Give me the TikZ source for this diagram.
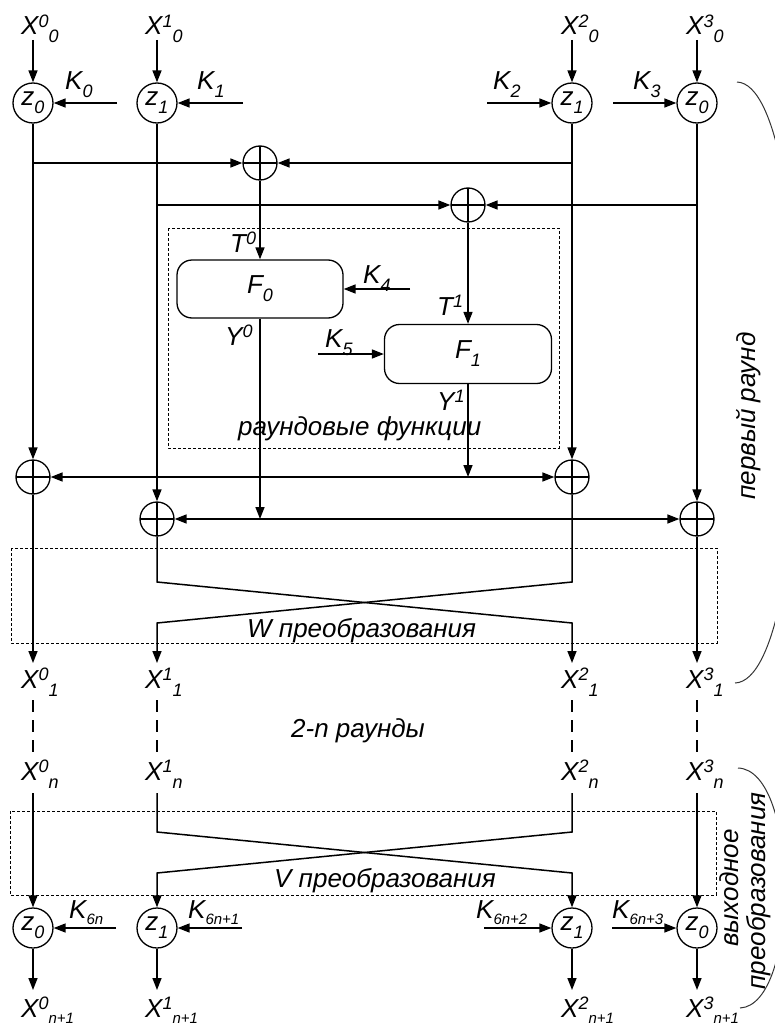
\documentclass[tikz,border=0pt]{standalone}
\usepackage{fontspec}
\setmainfont{Liberation Sans}
\usetikzlibrary{arrows.meta}
\newcommand\upx[1]{\raisebox{7.5pt}{\fontsize{18}{18}\selectfont #1}}
\newcommand\dnx[1]{\raisebox{-8pt}{\fontsize{18}{18}\selectfont #1}}
\newcommand\dny[1]{\raisebox{-6pt}{\fontsize{15}{15}\selectfont #1}}
\tikzset{
  ln/.style={line width=1.5pt},
  ar/.style={ln,-{Triangle[length=12pt,width=9pt]}},
  ar2/.style={ln,{Triangle[length=12pt,width=9pt]}-{Triangle[length=12pt,width=9pt]}},
  lbl/.style={font=\fontsize{26}{30}\selectfont\itshape, inner sep=0pt},
  zc/.style={circle, draw, line width=1.3pt, minimum size=40pt, inner sep=0pt, font=\fontsize{26}{30}\selectfont\itshape},
  xc/.style={circle, draw, line width=1.3pt, minimum size=34pt, inner sep=0pt,
    path picture={\draw[line width=1.3pt] (path picture bounding box.north) -- (path picture bounding box.south)
      (path picture bounding box.west) -- (path picture bounding box.east);}},
  fbox/.style={draw, line width=1.3pt, rounded corners=15pt, inner sep=0pt, font=\fontsize{26}{30}\selectfont\itshape},
  dbox/.style={line width=1pt, dash pattern=on 3pt off 2pt},
  dl/.style={ln, dash pattern=on 12pt off 8pt},
  brk/.style={line width=1pt, black!80},
}
\begin{document}
\begin{tikzpicture}[x=1pt,y=-1pt]
\useasboundingbox (0,0) rectangle (775,1030);
\clip (0,0) rectangle (775,1030);

% ---------- top inputs ----------
\node[lbl, anchor=base west] (x00) at (21,35) {X\upx{0}\dnx{0}};
\node[lbl, anchor=base west] (x10) at (145,35) {X\upx{1}\dnx{0}};
\node[lbl, anchor=base west] (x20) at (561,35) {X\upx{2}\dnx{0}};
\node[lbl, anchor=base west] (x30) at (686,35) {X\upx{3}\dnx{0}};
\coordinate (i0) at (33,40); \coordinate (i1) at (157,40);
\coordinate (i2) at (572,40); \coordinate (i3) at (697,40);

\node[zc] (zt0) at (33,103) {z\dnx{0}};
\node[zc] (zt1) at (157,103) {z\dnx{1}};
\node[zc] (zt2) at (572,103) {z\dnx{1}};
\node[zc] (zt3) at (697,103) {z\dnx{0}};
\foreach \i in {0,1,2,3} \draw[ar] (i\i) -- (zt\i);

\node[lbl, anchor=base west] (k0) at (65,90) {K\dnx{0}};
\node[lbl, anchor=base west] (k1) at (197,90) {K\dnx{1}};
\node[lbl, anchor=base west] (k2) at (493,90) {K\dnx{2}};
\node[lbl, anchor=base west] (k3) at (633,90) {K\dnx{3}};
\coordinate (k0s) at (117,103); \coordinate (k1s) at (243,103);
\coordinate (k2s) at (487,103); \coordinate (k3s) at (613,103);
\draw[ar] (k0s) -- (zt0.east);
\draw[ar] (k1s) -- (zt1.east);
\draw[ar] (k2s) -- (zt2.west);
\draw[ar] (k3s) -- (zt3.west);

% ---------- top xors ----------
\node[xc] (xr0) at (260,163) {};
\node[xc] (xr1) at (468,205) {};
\coordinate (b0) at (33,163); \coordinate (b2) at (572,163);
\coordinate (b1) at (157,205); \coordinate (b3) at (697,205);
\draw[ar] (b0) -- (xr0.west);
\draw[ar] (b2) -- (xr0.east);
\draw[ar] (b1) -- (xr1.west);
\draw[ar] (b3) -- (xr1.east);

% ---------- round functions ----------
\draw[dbox] (168,228) rectangle (559,448);
\node[lbl, anchor=base west] (rf) at (238,435) {раундовые функции};
\node[fbox, minimum width=166pt, minimum height=58pt] (F0) at (260,289) {F\dnx{0}};
\node[fbox, minimum width=167pt, minimum height=59pt] (F1) at (468,354) {F\dnx{1}};
\draw[ar] (xr0.south) -- (F0.north);
\draw[ar] (xr1.south) -- (F1.north);
\node[lbl, anchor=base west] (t0) at (230,252) {T\upx{0}};
\node[lbl, anchor=base west] (t1) at (437,315) {T\upx{1}};
\node[lbl, anchor=base west] (y0) at (225,345) {Y\upx{0}};
\node[lbl, anchor=base west] (y1) at (437,410) {Y\upx{1}};
\node[lbl, anchor=base west] (k4) at (363,283) {K\dnx{4}};
\node[lbl, anchor=base west] (k5) at (325,347) {K\dnx{5}};
\coordinate (k4s) at (410,289); \coordinate (k5s) at (318,354);
\draw[ar] (k4s) -- (F0.east);
\draw[ar] (k5s) -- (F1.west);

% ---------- lower xors ----------
\node[xc] (xa0) at (33,477) {};
\node[xc] (xa2) at (572,477) {};
\node[xc] (xb1) at (157,519) {};
\node[xc] (xb3) at (697,519) {};
\draw[ar] (zt0.south) -- (xa0.north);
\draw[ar] (zt1.south) -- (xb1.north);
\draw[ar] (zt2.south) -- (xa2.north);
\draw[ar] (zt3.south) -- (xb3.north);
\coordinate (ya) at (468,477); \coordinate (yb) at (260,519);
\draw[ar] (F1.south) -- (ya);
\draw[ar] (F0.south) -- (yb);
\draw[ar2] (xa0.east) -- (xa2.west);
\draw[ar2] (xb1.east) -- (xb3.west);

% ---------- W transform ----------
\draw[dbox] (11,548) rectangle (717,643);
\node[lbl, anchor=base west] (wt) at (247,637) {W преобразования};
\coordinate (o0) at (33,663); \coordinate (o1) at (157,663);
\coordinate (o2) at (572,663); \coordinate (o3) at (697,663);
\draw[ar] (xa0.south) -- (o0);
\draw[ar] (xb3.south) -- (o3);
\draw[ar] (xb1.south) -- (157,582) -- (572,623) -- (o2);
\draw[ar] (xa2.south) -- (572,582) -- (157,623) -- (o1);

\node[lbl, anchor=base west] (x01) at (21,688) {X\upx{0}\dnx{1}};
\node[lbl, anchor=base west] (x11) at (145,688) {X\upx{1}\dnx{1}};
\node[lbl, anchor=base west] (x21) at (561,688) {X\upx{2}\dnx{1}};
\node[lbl, anchor=base west] (x31) at (686,688) {X\upx{3}\dnx{1}};

% ---------- rounds 2..n ----------
\foreach \c/\n in {33/0,157/1,572/2,697/3} {
  \coordinate (da\n) at (\c,700); \coordinate (db\n) at (\c,757);
  \draw[dl] (da\n) -- (db\n);
}
\node[lbl, anchor=base west] (rn) at (291,737) {2-n раунды};
\node[lbl, anchor=base west] (x0n) at (21,780) {X\upx{0}\dnx{n}};
\node[lbl, anchor=base west] (x1n) at (145,780) {X\upx{1}\dnx{n}};
\node[lbl, anchor=base west] (x2n) at (561,780) {X\upx{2}\dnx{n}};
\node[lbl, anchor=base west] (x3n) at (686,780) {X\upx{3}\dnx{n}};

% ---------- V transform ----------
\draw[dbox] (10,811) rectangle (716,895);
\node[lbl, anchor=base west] (vt) at (274,887) {V преобразования};
\node[zc] (zb0) at (33,928) {z\dnx{0}};
\node[zc] (zb1) at (157,928) {z\dnx{1}};
\node[zc] (zb2) at (572,928) {z\dnx{1}};
\node[zc] (zb3) at (697,928) {z\dnx{0}};
\coordinate (n0) at (33,793); \coordinate (n1) at (157,793);
\coordinate (n2) at (572,793); \coordinate (n3) at (697,793);
\draw[ar] (n0) -- (zb0.north);
\draw[ar] (n3) -- (zb3.north);
\draw[ar] (n1) -- (157,832) -- (572,873) -- (zb2.north);
\draw[ar] (n2) -- (572,832) -- (157,873) -- (zb1.north);

\node[lbl, anchor=base west] (kb0) at (69,918) {K\dny{6n}};
\node[lbl, anchor=base west] (kb1) at (188,918) {K\dny{6n+1}};
\node[lbl, anchor=base west] (kb2) at (476,918) {K\dny{6n+2}};
\node[lbl, anchor=base west] (kb3) at (612,918) {K\dny{6n+3}};
\coordinate (kb0s) at (116,928); \coordinate (kb1s) at (242,928);
\coordinate (kb2s) at (484,928); \coordinate (kb3s) at (612,928);
\draw[ar] (kb0s) -- (zb0.east);
\draw[ar] (kb1s) -- (zb1.east);
\draw[ar] (kb2s) -- (zb2.west);
\draw[ar] (kb3s) -- (zb3.west);

\coordinate (e0) at (33,990); \coordinate (e1) at (157,990);
\coordinate (e2) at (572,990); \coordinate (e3) at (697,990);
\foreach \i in {0,1,2,3} \draw[ar] (zb\i.south) -- (e\i);
\node[lbl, anchor=base west] (xo0) at (21,1017) {X\upx{0}\dny{n+1}};
\node[lbl, anchor=base west] (xo1) at (145,1017) {X\upx{1}\dny{n+1}};
\node[lbl, anchor=base west] (xo2) at (561,1017) {X\upx{2}\dny{n+1}};
\node[lbl, anchor=base west] (xo3) at (686,1017) {X\upx{3}\dny{n+1}};

% ---------- brackets ----------
\coordinate (ba1) at (737,82); \coordinate (ba2) at (735,683);
\draw[brk] (ba1) .. controls (820,85) and (820,680) .. (ba2);
\coordinate (bb1) at (738,768); \coordinate (bb2) at (740,1008);
\draw[brk] (bb1) .. controls (800,770) and (800,1005) .. (bb2);
\node[lbl, anchor=base, rotate=90] (pr) at (755,416) {первый раунд};
\node[lbl, anchor=base, rotate=90] (vy) at (738,888) {выходное};
\node[lbl, anchor=base, rotate=90] (pb) at (765,891) {преобразования};
\end{tikzpicture}
\end{document}
